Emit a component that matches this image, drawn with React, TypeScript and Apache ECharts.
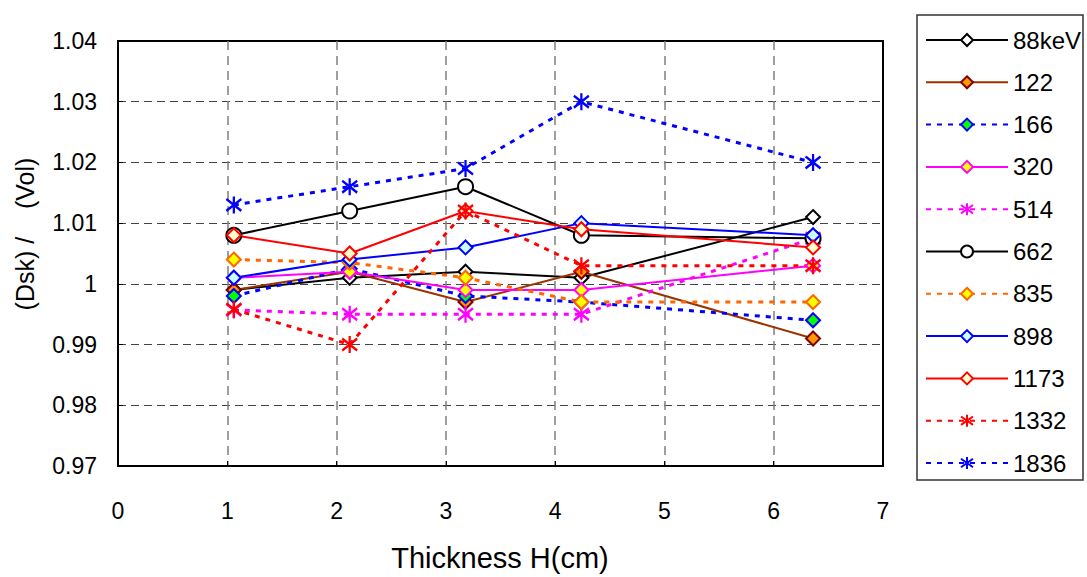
import React, { useEffect, useRef } from "react";
import * as echarts from "echarts";

const thickness = [1.06, 2.12, 3.18, 4.24, 6.36];
const seriesNames = ["88keV", "122", "166", "320", "514", "662", "835", "898", "1173", "1332", "1836"];
const s88 = [0.999, 1.001, 1.002, 1.001, 1.011];
const s122 = [0.999, 1.002, 0.997, 1.002, 0.991];
const s166 = [0.998, 1.0025, 0.998, 0.997, 0.994];
const s320 = [1.001, 1.002, 0.999, 0.999, 1.003];
const s514 = [0.9957, 0.995, 0.995, 0.995, 1.0075];
const s662 = [1.008, 1.012, 1.016, 1.008, 1.0075];
const s835 = [1.004, 1.0035, 1.001, 0.997, 0.997];
const s898 = [1.001, 1.004, 1.006, 1.01, 1.008];
const s1173 = [1.008, 1.005, 1.012, 1.009, 1.006];
const s1332 = [0.9958, 0.99, 1.012, 1.003, 1.003];
const s1836 = [1.013, 1.016, 1.019, 1.03, 1.02];
const xTicks = [0, 1, 2, 3, 4, 5, 6, 7];

const FONT = "'Liberation Sans', Arial, sans-serif";
const STAR = "path://M10,0 L10,20 M3,3 L17,17 M3,17 L17,3";
const DOT: number[] = [5, 6];

type Sty = { line: string; dash: boolean; symbol: string; fill: string; border: string; size: number };
const styles: Sty[] = [
  { line: "#000000", dash: false, symbol: "diamond", fill: "#ffffff", border: "#000000", size: 14 },
  { line: "#993300", dash: false, symbol: "diamond", fill: "#ff9900", border: "#800000", size: 14 },
  { line: "#0000ff", dash: true, symbol: "diamond", fill: "#00ff00", border: "#0000ff", size: 14 },
  { line: "#ff00ff", dash: false, symbol: "diamond", fill: "#ffff00", border: "#ff00ff", size: 14 },
  { line: "#ff00ff", dash: true, symbol: STAR, fill: "none", border: "#ff00ff", size: 16 },
  { line: "#000000", dash: false, symbol: "circle", fill: "#ffffff", border: "#000000", size: 15 },
  { line: "#ff6600", dash: true, symbol: "diamond", fill: "#ffff00", border: "#ff6600", size: 14 },
  { line: "#0000ff", dash: false, symbol: "diamond", fill: "#ccffff", border: "#0000ff", size: 14 },
  { line: "#ff0000", dash: false, symbol: "diamond", fill: "#ffffcc", border: "#ff0000", size: 14 },
  { line: "#ff0000", dash: true, symbol: STAR, fill: "none", border: "#ff0000", size: 16 },
  { line: "#0000ff", dash: true, symbol: STAR, fill: "none", border: "#0000ff", size: 16 },
];
const values = [s88, s122, s166, s320, s514, s662, s835, s898, s1173, s1332, s1836];

export default function App() {
  const ref = useRef<HTMLDivElement>(null);
  useEffect(() => {
    document.body.style.margin = "0";
    const chart = echarts.init(ref.current!, null, { renderer: "svg" });
    const series = seriesNames.map((name, i) => {
      const st = styles[i];
      return {
        name,
        type: "line",
        data: thickness.map((x, j) => [x, values[i][j]]),
        symbol: st.symbol,
        symbolSize: st.symbol === STAR ? [15, 17] : st.size,
        showAllSymbol: true,
        lineStyle: { color: st.line, width: st.dash ? 3 : 2, type: st.dash ? DOT : "solid" },
        itemStyle: { color: st.fill, borderColor: st.border, borderWidth: st.symbol === STAR ? 2.4 : 2 },
        emphasis: { disabled: true },
      };
    });
    chart.setOption({
      animation: false,
      backgroundColor: "#ffffff",
      grid: { left: 118, top: 41, right: 204, bottom: 111, show: true, borderColor: "#000", borderWidth: 2 },
      xAxis: {
        type: "value",
        min: xTicks[0],
        max: xTicks[xTicks.length - 1],
        interval: 1,
        axisLine: { show: true, lineStyle: { color: "#000", width: 2 } },
        axisTick: { show: true, inside: true, length: 5, lineStyle: { color: "#000" } },
        axisLabel: { margin: 33, fontFamily: FONT, fontSize: 23, color: "#000" },
        splitLine: {
          show: true,
          showMinLine: false,
          showMaxLine: false,
          lineStyle: { color: "#808080", width: 1.5, type: [9, 6] },
        },
      },
      yAxis: {
        type: "value",
        min: 0.97,
        max: 1.04,
        interval: 0.01,
        axisLine: { show: true, lineStyle: { color: "#000", width: 2 } },
        axisTick: { show: true, inside: true, length: 5, lineStyle: { color: "#000" } },
        axisLabel: {
          margin: 21,
          fontFamily: FONT,
          fontSize: 23,
          color: "#000",
          formatter: (v: number) => String(parseFloat(v.toFixed(2))),
        },
        splitLine: {
          show: true,
          showMinLine: false,
          showMaxLine: false,
          lineStyle: { color: "#444", width: 1, type: [8, 5] },
        },
      },
      legend: {
        orient: "vertical",
        left: 925,
        top: 25,
        padding: 0,
        itemWidth: 82,
        itemHeight: 15,
        itemGap: 12.3,
        data: seriesNames,
        textStyle: { fontFamily: FONT, fontSize: 24, lineHeight: 30, color: "#000" },
        selectedMode: false,
      },
      graphic: [
        {
          type: "rect",
          shape: { x: 883, y: 41, width: 0.01, height: 425 },
          style: { fill: "none", stroke: "#000", lineWidth: 2 },
          z: 10,
        },
        {
          type: "rect",
          shape: { x: 917, y: 15, width: 166, height: 465 },
          style: { fill: "none", stroke: "#333", lineWidth: 1.5 },
          z: -1,
        },
        {
          type: "text",
          x: 25,
          y: 234,
          rotation: Math.PI / 2,
          style: {
            text: "(Dsk) /    (Vol)",
            fontFamily: FONT,
            fontSize: 25,
            fill: "#000",
            textAlign: "center",
            textVerticalAlign: "middle",
          },
        },
        {
          type: "text",
          x: 500,
          y: 558,
          style: {
            text: "Thickness H(cm)",
            fontFamily: FONT,
            fontSize: 29,
            fill: "#000",
            textAlign: "center",
            textVerticalAlign: "middle",
          },
        },
      ],
      series,
    });
    return () => chart.dispose();
  }, []);
  return <div ref={ref} style={{ width: 1087, height: 577 }} />;
}
